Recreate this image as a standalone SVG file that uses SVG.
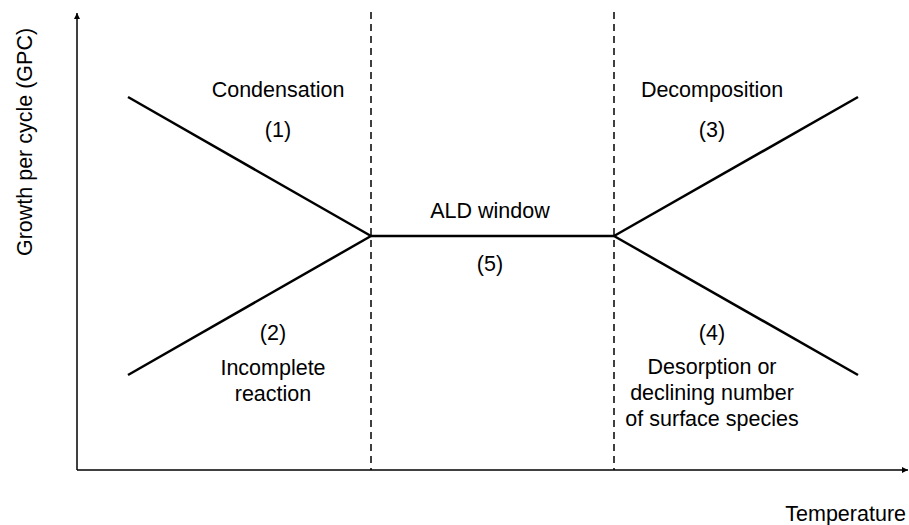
<svg xmlns="http://www.w3.org/2000/svg" width="909" height="525" viewBox="0 0 909 525">
<defs>
<style>
text{font-family:"Liberation Sans",Arial,sans-serif;font-size:21.5px;fill:#000;text-anchor:middle}
.axis{stroke:#000;stroke-width:1.5;fill:none}
.dash{stroke:#000;stroke-width:1.5;stroke-dasharray:7,5;fill:none}
.curve{stroke:#000;stroke-width:2.5;fill:none}
</style>
<marker id="arr" viewBox="0 0 10 10" refX="10" refY="5" markerWidth="6" markerHeight="6" orient="auto" markerUnits="userSpaceOnUse">
<path d="M0,0 L10,5 L0,10 z" fill="#000"/>
</marker>
</defs>
<rect width="909" height="525" fill="#fff"/>
<g id="connectors">
<line class="axis" x1="77" y1="470" x2="77" y2="13" marker-end="url(#arr)"/>
<line class="axis" x1="77" y1="470" x2="908" y2="470" marker-end="url(#arr)"/>
<line class="dash" x1="371" y1="12" x2="371" y2="470"/>
<line class="dash" x1="614" y1="12" x2="614" y2="470"/>
<line class="curve" x1="128" y1="97" x2="371" y2="236"/>
<line class="curve" x1="128" y1="375" x2="371" y2="236"/>
<line class="curve" x1="371" y1="236" x2="614" y2="236"/>
<line class="curve" x1="614" y1="236" x2="858" y2="97"/>
<line class="curve" x1="614" y1="236" x2="858" y2="375"/>
</g>
<g id="condensation"><text x="278" y="97">Condensation</text><text x="278" y="137">(1)</text></g>
<g id="decomposition"><text x="712" y="97">Decomposition</text><text x="712" y="137">(3)</text></g>
<g id="ald-window"><text x="490" y="218">ALD window</text><text x="490" y="271">(5)</text></g>
<g id="incomplete"><text x="273" y="340">(2)</text><text x="273" y="375">Incomplete</text><text x="273" y="401">reaction</text></g>
<g id="desorption"><text x="712" y="340">(4)</text><text x="712" y="374">Desorption or</text><text x="712" y="400">declining number</text><text x="712" y="426">of surface species</text></g>
<g id="axis-labels"><text x="906" y="521" style="text-anchor:end">Temperature</text><text transform="translate(32,142) rotate(-90)">Growth per cycle (GPC)</text></g>
</svg>
